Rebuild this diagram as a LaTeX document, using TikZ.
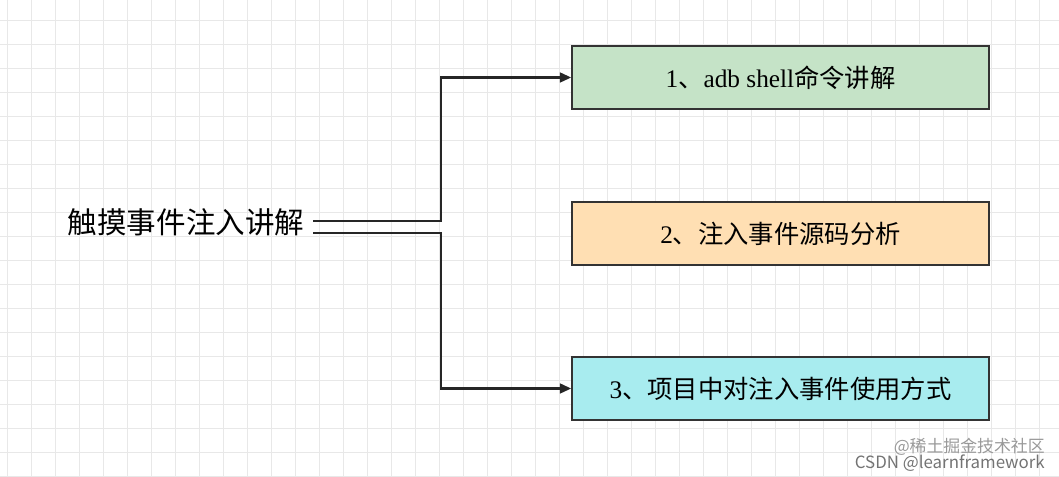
\documentclass[tikz,border=0pt]{standalone}
\usepackage{fontspec}
\setmainfont{Liberation Serif}
\newfontfamily\cjk{Noto Sans CJK SC}
\usetikzlibrary{arrows.meta}
\begin{document}
\begin{tikzpicture}[x=0.025cm,y=-0.025cm,
  box/.style={draw=black!80,line width=1.2pt,minimum width=417*0.025cm,minimum height=63*0.025cm,inner sep=0pt,font=\fontsize{18}{20}\selectfont},
  conn/.style={draw=black!85,line width=1.5pt},
  arr/.style={conn,-{Triangle[length=8pt,width=7pt]}}]
\useasboundingbox (0,0) rectangle (1059,477);
\foreach \x in {7,31,...,1059} \draw[black!9,line width=0.5pt] (\x,0) -- (\x,477);
\foreach \y in {20,44,...,477} \draw[black!9,line width=0.5pt] (0,\y) -- (1059,\y);
\node[font=\cjk\fontsize{21}{24}\selectfont,inner sep=0pt] (root) at (186,222) {触摸事件注入讲解};
\node[box,fill={rgb,255:red,197;green,227;blue,199}] (b1) at (780.5,77.5) {1{\cjk 、}adb shell{\cjk 命令讲解}};
\node[box,fill={rgb,255:red,255;green,223;blue,179}] (b2) at (780.5,233.5) {2{\cjk 、注入事件源码分析}};
\node[box,fill={rgb,255:red,168;green,236;blue,239}] (b3) at (780.5,388.5) {3{\cjk 、项目中对注入事件使用方式}};
\coordinate (s1) at (313,221);
\coordinate (s2) at (313,233);
\draw[arr] (s1) -- (441,221) |- (b1.west);
\draw[arr] (s2) -- (441,233) |- (b3.west);
\node[font=\cjk\fontsize{12}{14}\selectfont,text=black!40,anchor=east,inner sep=0pt] (w1) at (1045,447) {@稀土掘金技术社区};
\node[font=\cjk\fontsize{12}{14}\selectfont,text=black!55,anchor=east,inner sep=0pt] (w2) at (1045,463) {CSDN @learnframework};
\end{tikzpicture}
\end{document}
